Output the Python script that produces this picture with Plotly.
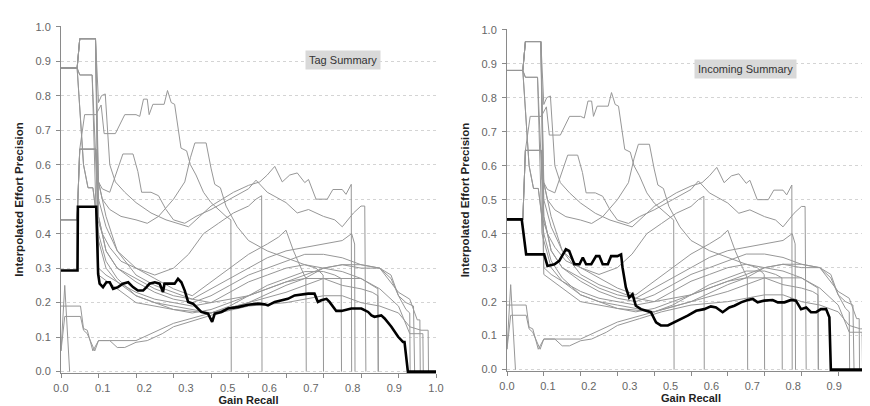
import plotly.graph_objects as go

# ---------------- data ----------------
X_TICK_POS = [i / 9 for i in range(10)]
X_TICK_LABELS = ["0.0", "0.1", "0.2", "0.3", "0.5", "0.6", "0.7", "0.8", "0.9", "1.0"]
X_MINOR_TICKS = [round(0.1 * k, 1) for k in range(11)]
Y_TICKS = [round(0.1 * k, 1) for k in range(11)]

# Black summary curves
TAG_X = [0, 0.044, 0.045, 0.094, 0.099, 0.103, 0.112, 0.121, 0.130, 0.139, 0.152, 0.165, 0.179, 0.192,
         0.205, 0.219, 0.228, 0.236, 0.250, 0.263, 0.272, 0.276, 0.285, 0.303, 0.312, 0.321, 0.330, 0.339,
         0.352, 0.361, 0.374, 0.392, 0.403, 0.410, 0.428, 0.445, 0.472, 0.499, 0.525, 0.543, 0.552, 0.570,
         0.588, 0.605, 0.623, 0.641, 0.659, 0.676, 0.685, 0.694, 0.708, 0.716, 0.734, 0.748, 0.774, 0.801,
         0.819, 0.828, 0.836, 0.854, 0.863, 0.881, 0.899, 0.912, 0.916, 0.925, 1.0]
TAG_Y = [0.293, 0.293, 0.478, 0.478, 0.283, 0.255, 0.245, 0.259, 0.259, 0.240, 0.245, 0.255, 0.259, 0.245,
         0.235, 0.235, 0.245, 0.255, 0.259, 0.255, 0.231, 0.255, 0.255, 0.255, 0.269, 0.259, 0.235, 0.202,
         0.197, 0.187, 0.173, 0.168, 0.144, 0.168, 0.173, 0.183, 0.187, 0.194, 0.197, 0.195, 0.192, 0.202,
         0.207, 0.211, 0.221, 0.224, 0.226, 0.226, 0.202, 0.207, 0.211, 0.202, 0.176, 0.176, 0.183, 0.183,
         0.173, 0.163, 0.159, 0.163, 0.154, 0.130, 0.101, 0.086, 0.086, 0, 0]

INC_X = [0, 0.04, 0.052, 0.101, 0.11, 0.129, 0.142, 0.16, 0.169, 0.183, 0.197, 0.206, 0.215, 0.229, 0.242,
         0.251, 0.26, 0.274, 0.283, 0.30, 0.31, 0.314, 0.323, 0.332, 0.341, 0.35, 0.364, 0.382, 0.391, 0.405,
         0.418, 0.437, 0.455, 0.473, 0.491, 0.514, 0.536, 0.554, 0.568, 0.586, 0.604, 0.618, 0.636, 0.654,
         0.668, 0.681, 0.699, 0.722, 0.736, 0.754, 0.772, 0.785, 0.799, 0.813, 0.826, 0.84, 0.853, 0.867,
         0.876, 0.88, 1.0]
INC_Y = [0.442, 0.442, 0.339, 0.339, 0.305, 0.31, 0.32, 0.354, 0.349, 0.31, 0.31, 0.33, 0.31, 0.31, 0.334,
         0.334, 0.31, 0.31, 0.334, 0.334, 0.339, 0.30, 0.242, 0.212, 0.222, 0.188, 0.178, 0.173, 0.169, 0.139,
         0.13, 0.13, 0.139, 0.149, 0.159, 0.173, 0.178, 0.186, 0.183, 0.169, 0.183, 0.188, 0.198, 0.205,
         0.208, 0.198, 0.203, 0.205, 0.198, 0.198, 0.205, 0.203, 0.178, 0.183, 0.169, 0.169, 0.178, 0.178,
         0.154, 0, 0]

# Individual (grey) curves, shared by both panels
G01_X = [0, 0.01, 0.023]
G01_Y = [0.06, 0.25, 0]
G02_X = [0, 0.043, 0.05, 0.092, 0.10, 0.108, 0.118, 0.13, 0.145, 0.17, 0.2, 0.24, 0.28, 0.31, 0.34, 0.37,
         0.40, 0.43, 0.46, 0.5, 0.53, 0.55, 0.57, 0.59, 0.61, 0.63, 0.65, 0.66, 0.68, 0.71, 0.725, 0.75, 0.76,
         0.774, 0.775]
G02_Y = [0.88, 0.88, 0.965, 0.965, 0.78, 0.80, 0.805, 0.6, 0.55, 0.52, 0.49, 0.46, 0.44, 0.43, 0.42, 0.45,
         0.48, 0.50, 0.52, 0.54, 0.55, 0.57, 0.595, 0.55, 0.57, 0.576, 0.548, 0.557, 0.5, 0.5, 0.528, 0.528,
         0.514, 0.543, 0]
G03_X = [0, 0.043, 0.05, 0.063, 0.093, 0.107, 0.115, 0.145, 0.17, 0.2, 0.21, 0.22, 0.23, 0.235, 0.245, 0.275,
         0.284, 0.294, 0.303, 0.32, 0.335, 0.345, 0.36, 0.38, 0.40, 0.42, 0.44, 0.453, 0.454]
G03_Y = [0.44, 0.44, 0.645, 0.745, 0.745, 0.773, 0.69, 0.69, 0.745, 0.745, 0.74, 0.79, 0.79, 0.745, 0.775,
         0.775, 0.815, 0.78, 0.775, 0.648, 0.64, 0.6, 0.57, 0.52, 0.49, 0.47, 0.45, 0.44, 0]
G04_X = [0, 0.043, 0.05, 0.093, 0.1, 0.11, 0.13, 0.16, 0.2, 0.23, 0.26, 0.3, 0.33, 0.345, 0.357, 0.387, 0.40,
         0.41, 0.425, 0.44, 0.47, 0.5, 0.55, 0.6, 0.65, 0.7, 0.75, 0.8, 0.83, 0.845, 0.846]
G04_Y = [0.44, 0.44, 0.645, 0.645, 0.55, 0.5, 0.47, 0.45, 0.44, 0.43, 0.45, 0.5, 0.55, 0.62, 0.663, 0.663,
         0.59, 0.543, 0.533, 0.48, 0.42, 0.38, 0.35, 0.33, 0.31, 0.3, 0.29, 0.27, 0.25, 0.24, 0]
G05_X = [0, 0.043, 0.05, 0.083, 0.095, 0.11, 0.13, 0.155, 0.165, 0.192, 0.205, 0.215, 0.24, 0.26, 0.28, 0.3,
         0.33, 0.36, 0.4, 0.45, 0.5, 0.52, 0.55, 0.6, 0.63, 0.66, 0.7, 0.73, 0.75, 0.78, 0.8, 0.81, 0.813]
G05_Y = [0.88, 0.88, 0.86, 0.86, 0.56, 0.53, 0.52, 0.6, 0.631, 0.631, 0.58, 0.52, 0.52, 0.51, 0.47, 0.44,
         0.43, 0.45, 0.47, 0.5, 0.53, 0.555, 0.52, 0.49, 0.46, 0.47, 0.45, 0.44, 0.42, 0.46, 0.48, 0.48, 0]
G06_X = [0, 0.043, 0.06, 0.072, 0.085, 0.095, 0.11, 0.13, 0.16, 0.2, 0.25, 0.3, 0.34, 0.38, 0.42, 0.46, 0.5,
         0.52, 0.535, 0.536]
G06_Y = [0.88, 0.88, 0.6, 0.533, 0.533, 0.45, 0.4, 0.36, 0.32, 0.3, 0.28, 0.3, 0.34, 0.4, 0.43, 0.46, 0.48,
         0.5, 0.51, 0]
G07_X = [0, 0.043, 0.05, 0.092, 0.10, 0.12, 0.15, 0.2, 0.25, 0.3, 0.35, 0.4, 0.45, 0.5, 0.55, 0.58, 0.6,
         0.62, 0.64, 0.653, 0.654]
G07_Y = [0.88, 0.88, 0.965, 0.965, 0.5, 0.42, 0.35, 0.3, 0.27, 0.24, 0.22, 0.26, 0.3, 0.34, 0.37, 0.39,
         0.41, 0.35, 0.3, 0.27, 0]
G08_X = [0, 0.043, 0.05, 0.093, 0.1, 0.12, 0.15, 0.2, 0.25, 0.3, 0.35, 0.4, 0.45, 0.5, 0.55, 0.6, 0.65,
         0.7, 0.75, 0.775, 0.783, 0.784]
G08_Y = [0.44, 0.44, 0.645, 0.645, 0.45, 0.35, 0.3, 0.27, 0.24, 0.22, 0.21, 0.24, 0.27, 0.3, 0.33, 0.35,
         0.36, 0.37, 0.38, 0.4, 0.37, 0]
G09_X = [0, 0.043, 0.05, 0.092, 0.1, 0.12, 0.15, 0.2, 0.25, 0.3, 0.35, 0.4, 0.45, 0.5, 0.55, 0.6, 0.65,
         0.68, 0.699, 0.7]
G09_Y = [0.88, 0.88, 0.965, 0.965, 0.3, 0.28, 0.26, 0.23, 0.21, 0.2, 0.19, 0.2, 0.23, 0.26, 0.28, 0.3, 0.31,
         0.3, 0.28, 0]
G10_X = [0, 0.043, 0.06, 0.072, 0.085, 0.1, 0.12, 0.15, 0.2, 0.25, 0.3, 0.35, 0.4, 0.45, 0.5, 0.55, 0.6,
         0.65, 0.7, 0.73, 0.747, 0.748]
G10_Y = [0.88, 0.88, 0.6, 0.533, 0.533, 0.4, 0.32, 0.27, 0.22, 0.2, 0.19, 0.18, 0.17, 0.19, 0.22, 0.25,
         0.27, 0.29, 0.29, 0.28, 0.27, 0]
G11_X = [0, 0.043, 0.05, 0.093, 0.1, 0.15, 0.2, 0.3, 0.4, 0.5, 0.6, 0.65, 0.7, 0.75, 0.8, 0.85, 0.88, 0.9,
         0.92, 0.94, 0.943]
G11_Y = [0.44, 0.44, 0.645, 0.645, 0.28, 0.24, 0.2, 0.18, 0.17, 0.2, 0.25, 0.27, 0.3, 0.31, 0.3, 0.3, 0.27,
         0.22, 0.2, 0.19, 0]
G12_X = [0, 0.043, 0.05, 0.092, 0.1, 0.12, 0.15, 0.2, 0.25, 0.3, 0.35, 0.4, 0.5, 0.6, 0.65, 0.7, 0.75, 0.8,
         0.85, 0.9, 0.93, 0.95, 0.957, 0.958]
G12_Y = [0.88, 0.88, 0.965, 0.965, 0.55, 0.45, 0.35, 0.28, 0.25, 0.23, 0.21, 0.2, 0.22, 0.26, 0.28, 0.3,
         0.31, 0.31, 0.3, 0.23, 0.21, 0.15, 0.15, 0]
G13_X = [0, 0.01, 0.052, 0.06, 0.07, 0.09, 0.1, 0.13, 0.15, 0.17, 0.2, 0.23, 0.27, 0.3, 0.36, 0.42, 0.5,
         0.6, 0.7, 0.75, 0.8, 0.85, 0.9, 0.93, 0.96, 0.975, 0.979, 0.98]
G13_Y = [0.06, 0.16, 0.16, 0.12, 0.11, 0.06, 0.09, 0.09, 0.07, 0.07, 0.085, 0.09, 0.11, 0.13, 0.15, 0.17,
         0.19, 0.2, 0.22, 0.22, 0.2, 0.19, 0.17, 0.13, 0.12, 0.12, 0.12, 0]
G14_X = [0, 0.052, 0.06, 0.07, 0.085, 0.1, 0.13, 0.2, 0.3, 0.4, 0.5, 0.6, 0.7, 0.8, 0.85, 0.9, 0.93, 0.955,
         0.965, 0.966]
G14_Y = [0.19, 0.19, 0.125, 0.12, 0.06, 0.09, 0.09, 0.09, 0.14, 0.17, 0.2, 0.23, 0.27, 0.27, 0.24, 0.19,
         0.11, 0.11, 0.11, 0]
G15_X = [0, 0.043, 0.05, 0.083, 0.095, 0.12, 0.15, 0.2, 0.25, 0.3, 0.35, 0.4, 0.45, 0.5, 0.55, 0.6, 0.65,
         0.7, 0.75, 0.8, 0.83, 0.845, 0.846]
G15_Y = [0.88, 0.88, 0.86, 0.86, 0.4, 0.3, 0.26, 0.22, 0.2, 0.18, 0.17, 0.18, 0.2, 0.22, 0.24, 0.26, 0.27,
         0.27, 0.25, 0.24, 0.23, 0.22, 0]
G16_X = [0, 0.043, 0.05, 0.092, 0.1, 0.12, 0.15, 0.2, 0.25, 0.3, 0.35, 0.4, 0.45, 0.5, 0.55, 0.6, 0.65,
         0.7, 0.75, 0.8, 0.85, 0.88, 0.9, 0.92, 0.93, 0.931]
G16_Y = [0.88, 0.88, 0.965, 0.965, 0.45, 0.35, 0.3, 0.26, 0.23, 0.21, 0.2, 0.22, 0.25, 0.28, 0.3, 0.32,
         0.34, 0.34, 0.33, 0.31, 0.3, 0.28, 0.22, 0.18, 0.17, 0]

GREY_SERIES = [
    (G01_X, G01_Y), (G02_X, G02_Y), (G03_X, G03_Y), (G04_X, G04_Y), (G05_X, G05_Y), (G06_X, G06_Y),
    (G07_X, G07_Y), (G08_X, G08_Y), (G09_X, G09_Y), (G10_X, G10_Y), (G11_X, G11_Y), (G12_X, G12_Y),
    (G13_X, G13_Y), (G14_X, G14_Y), (G15_X, G15_Y), (G16_X, G16_Y),
]

# ---------------- figure ----------------
GREY = "#979797"
fig = go.Figure()

for xa, ya, bx, by in [("x", "y", TAG_X, TAG_Y), ("x2", "y2", INC_X, INC_Y)]:
    for gx, gy in GREY_SERIES:
        fig.add_trace(go.Scatter(x=gx, y=gy, mode="lines", xaxis=xa, yaxis=ya,
                                 line=dict(color=GREY, width=1), hoverinfo="skip"))
    fig.add_trace(go.Scatter(x=bx, y=by, mode="lines", xaxis=xa, yaxis=ya,
                             line=dict(color="#000000", width=2.6), hoverinfo="skip"))

AX_COL = "#8a8a8a"
TICK_FONT = dict(family="Liberation Sans, Arial, sans-serif", size=11, color="#666666")
TITLE_FONT = dict(family="Liberation Sans, Arial, sans-serif", size=11, color="#222222", weight="bold")


def xaxis_cfg(domain, anchor):
    return dict(domain=domain, anchor=anchor, range=[0, 1], tickmode="array", automargin=False,
                tickvals=X_TICK_POS, ticktext=X_TICK_LABELS, ticks="", ticklabelstandoff=5,
                ticklabeloverflow="allow",
                showgrid=False, zeroline=False, showline=True, linecolor=AX_COL, linewidth=1,
                layer="below traces", tickfont=TICK_FONT,
                minor=dict(tickmode="array", tickvals=X_MINOR_TICKS, ticks="outside", ticklen=4,
                           tickcolor=AX_COL, showgrid=False),
                title=dict(text="Gain Recall", font=TITLE_FONT, standoff=0))


def yaxis_cfg(domain, anchor):
    return dict(domain=domain, anchor=anchor, range=[-0.004, 1.002], tickmode="array", automargin=False,
                tickvals=Y_TICKS, tickformat=".1f", ticks="outside", ticklen=4, tickcolor=AX_COL,
                ticklabelstandoff=3, showgrid=True, gridcolor="#d4d4d4", griddash="dot", gridwidth=1,
                zeroline=False, showline=True, linecolor=AX_COL, linewidth=1, layer="below traces",
                tickfont=TICK_FONT,
                title=dict(text="Interpolated Effort Precision", font=dict(TITLE_FONT, size=11.5),
                           standoff=9))


fig.update_layout(
    width=870, height=406, margin=dict(l=0, r=0, t=0, b=0),
    paper_bgcolor="white", plot_bgcolor="white", showlegend=False,
    xaxis=xaxis_cfg([53 / 870, 428 / 870], "y"),
    yaxis=yaxis_cfg([1 - 365 / 406, 1 - 18 / 406], "x"),
    xaxis2=xaxis_cfg([499 / 870, 867 / 870], "y2"),
    yaxis2=yaxis_cfg([1 - 363 / 406, 1 - 21 / 406], "x2"),
    annotations=[
        dict(text="Tag Summary", x=0.752, y=0.902, xref="x", yref="y", showarrow=False,
             bgcolor="#d9d9d9", borderpad=3, font=dict(family="Liberation Sans, Arial", size=11, color="#333")),
        dict(text="Incoming Summary", x=0.649, y=0.883, xref="x2", yref="y2", showarrow=False,
             bgcolor="#d9d9d9", borderpad=3, font=dict(family="Liberation Sans, Arial", size=11, color="#333")),
    ],
)

fig.write_html("out.html")
